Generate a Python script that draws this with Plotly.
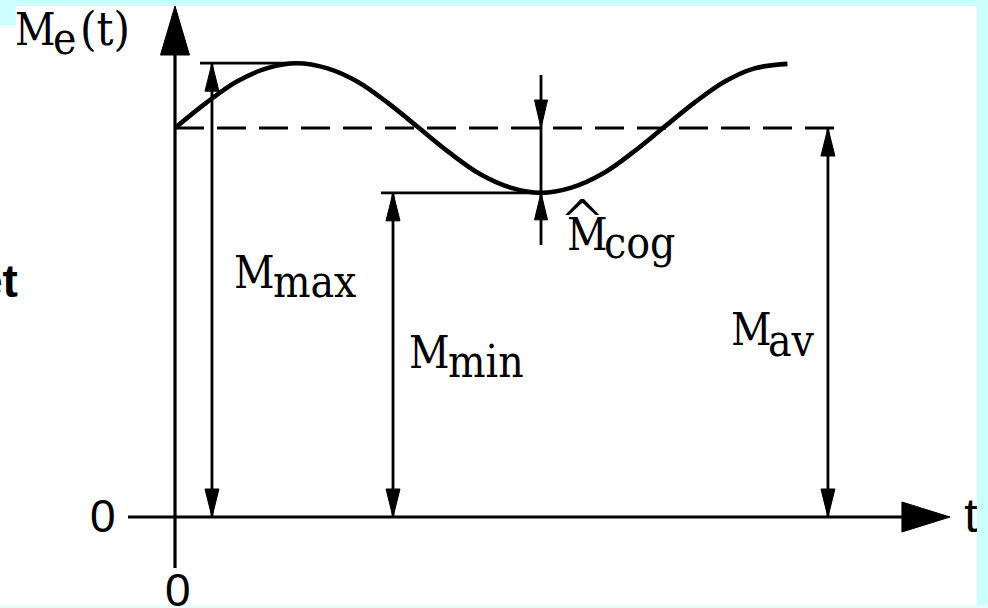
import plotly.graph_objects as go

# Engine torque M_e over time; t is measured in quarter periods of the ripple
t_curve = [0.0, 0.25, 0.5, 0.75, 1.0, 1.25, 1.5, 1.75, 2.0, 2.25, 2.5,
           2.75, 3.0, 3.25, 3.5, 3.75, 4.0, 4.25, 4.5, 4.75, 5.02]
m_curve = [6.0, 6.38, 6.71, 6.92, 7.0, 6.92, 6.71, 6.38, 6.0, 5.62, 5.29,
           5.08, 5.0, 5.08, 5.29, 5.62, 6.0, 6.38, 6.71, 6.92, 6.99]

M_MAX = 7.0      # peak torque
M_MIN = 5.0      # minimum torque
M_AV = 6.0       # average torque
T_PEAK = 1.0     # time of the peak
T_TROUGH = 3.0   # time of the minimum

# ---- canvas / scale -------------------------------------------------------
W, H = 988, 608
ORIGIN_PX = (175, 517)        # pixel position of t = 0, M = 0
PX_T = 122.0                  # pixels per unit of t
PX_M = 64.83                  # pixels per unit of M
X_RANGE = [-ORIGIN_PX[0] / PX_T, (W - ORIGIN_PX[0]) / PX_T]
Y_RANGE = [-(H - ORIGIN_PX[1]) / PX_M, ORIGIN_PX[1] / PX_M]

# positions of the dimension arrows and axis extents (in data units)
T_DIM_MAX = 0.303
T_DIM_MIN = 1.787
T_DIM_AV = 5.352
T_EXT_MAX = 0.205
T_EXT_MIN = 1.689
T_DASH_END = 5.475
T_AXIS_START = -0.385
T_AXIS_TIP = 6.352
M_AXIS_START = -0.787
M_AXIS_TIP = 7.882
M_COG_TOP = 6.818
M_COG_BOTTOM = 4.196

INK = "black"
SERIF = "DejaVu Serif Condensed, DejaVu Serif"
SANS = "Liberation Sans"

fig = go.Figure()


def seg(ts, ms, width=2.8, dash=None):
    fig.add_trace(go.Scatter(
        x=ts, y=ms, mode="lines", hoverinfo="skip", showlegend=False,
        line=dict(color=INK, width=width, dash=dash)))


def head(t_tip, m_tip, direction, length, half):
    """Filled triangular arrowhead; length/half-width given in pixels."""
    dl_t, dl_m = length / PX_T, length / PX_M
    dh_t, dh_m = half / PX_T, half / PX_M
    if direction == "up":
        xs = [t_tip, t_tip - dh_t, t_tip + dh_t]
        ys = [m_tip, m_tip - dl_m, m_tip - dl_m]
    elif direction == "down":
        xs = [t_tip, t_tip - dh_t, t_tip + dh_t]
        ys = [m_tip, m_tip + dl_m, m_tip + dl_m]
    else:  # right
        xs = [t_tip, t_tip - dl_t, t_tip - dl_t]
        ys = [m_tip, m_tip + dh_m, m_tip - dh_m]
    fig.add_trace(go.Scatter(
        x=xs + [xs[0]], y=ys + [ys[0]], mode="lines", fill="toself",
        fillcolor=INK, line=dict(color=INK, width=1),
        hoverinfo="skip", showlegend=False))


def dim_arrow(t, m_top):
    seg([t, t], [0, m_top])
    head(t, m_top, "up", 28, 7)
    head(t, 0, "down", 28, 7)


# coordinate axes with arrow tips
AX_HEAD_LEN, AX_HEAD_HALF = 49, 14.5
seg([0, 0], [M_AXIS_START, M_AXIS_TIP - AX_HEAD_LEN / PX_M], width=3.2)
head(0, M_AXIS_TIP, "up", AX_HEAD_LEN, AX_HEAD_HALF)
seg([T_AXIS_START, T_AXIS_TIP - 48 / PX_T], [0, 0], width=3.2)
head(T_AXIS_TIP, 0, "right", 48, 15)

# average torque (dashed)
seg([0, T_DASH_END], [M_AV, M_AV], width=3.2, dash="29px,13px")

# torque curve
fig.add_trace(go.Scatter(
    x=t_curve, y=m_curve, mode="lines", hoverinfo="skip", showlegend=False,
    line=dict(color=INK, width=4.6, shape="spline", smoothing=1.0)))

# extension lines for max/min
seg([T_EXT_MAX, T_PEAK], [M_MAX, M_MAX])
seg([T_EXT_MIN, T_TROUGH], [M_MIN, M_MIN])

# dimension arrows
dim_arrow(T_DIM_MAX, M_MAX)
dim_arrow(T_DIM_MIN, M_MIN)
dim_arrow(T_DIM_AV, M_AV)

# cogging amplitude: arrows pointing inward from outside
seg([T_TROUGH, T_TROUGH], [M_COG_BOTTOM, M_COG_TOP])
head(T_TROUGH, M_AV, "down", 28, 6.5)
head(T_TROUGH, M_MIN, "up", 27, 6.5)

# time-axis letter, partly hidden under the frame on the right
fig.add_trace(go.Scatter(
    x=[(971 - ORIGIN_PX[0]) / PX_T], y=[(ORIGIN_PX[1] - 520) / PX_M],
    mode="text", text=["t"], textposition="middle center",
    textfont=dict(family=SANS, size=48, color=INK),
    hoverinfo="skip", showlegend=False))

annotations = []


def label(text, x_px, baseline_px, size, family=SERIF, anchor="left",
          weight="normal"):
    annotations.append(dict(
        text=text, xref="paper", yref="paper", showarrow=False,
        x=x_px / W, y=1 - (baseline_px - 0.346 * size) / H,
        xanchor=anchor, yanchor="middle", borderpad=0,
        font=dict(family=family, size=size, color=INK, weight=weight)))


S = 44
# M_e(t)
label("M", 14, 45, S)
label("e", 52, 54, S)
label("(t)", 79, 45, S + 3)
# M_max, M_min, M_av
label("M", 233, 288, S)
label("max", 272, 297, S)
label("M", 408, 368, S)
label("min", 447, 377, S)
label("M", 730, 345, S)
label("av", 767, 356, S)
# M-hat_cog
label("^", 582.5, 242, 58, family="DejaVu Sans", anchor="center", weight=200)
label("M", 566, 250, S)
label("cog", 603, 258, S)
# zeros on the axes
label("0", 102.5, 532, 46, family=SANS, anchor="center")
label("0", 177.5, 606, 46, family=SANS, anchor="center")
# clipped word on the left edge
label("et", 19, 297, 46, family=SANS, anchor="right", weight="bold")

FRAME = "#ccffff"
shapes = [
    dict(type="rect", xref="paper", yref="paper", x0=0, x1=1,
         y0=1 - 6 / H, y1=1, fillcolor=FRAME, line=dict(width=0), layer="above"),
    dict(type="rect", xref="paper", yref="paper", x0=0, x1=16 / W,
         y0=1 - 25 / H, y1=1, fillcolor=FRAME, line=dict(width=0), layer="above"),
    dict(type="rect", xref="paper", yref="paper", x0=977 / W, x1=1,
         y0=0, y1=1, fillcolor=FRAME, line=dict(width=0), layer="above"),
    dict(type="rect", xref="paper", yref="paper", x0=0, x1=1,
         y0=0, y1=3 / H, fillcolor="#e6ffff", line=dict(width=0), layer="above"),
]

fig.update_layout(
    width=W, height=H, margin=dict(l=0, r=0, t=0, b=0),
    paper_bgcolor="white", plot_bgcolor="white",
    xaxis=dict(range=X_RANGE, visible=False, fixedrange=True),
    yaxis=dict(range=Y_RANGE, visible=False, fixedrange=True),
    annotations=annotations, shapes=shapes, showlegend=False,
)

fig.write_html("out.html", config={"displayModeBar": False})
